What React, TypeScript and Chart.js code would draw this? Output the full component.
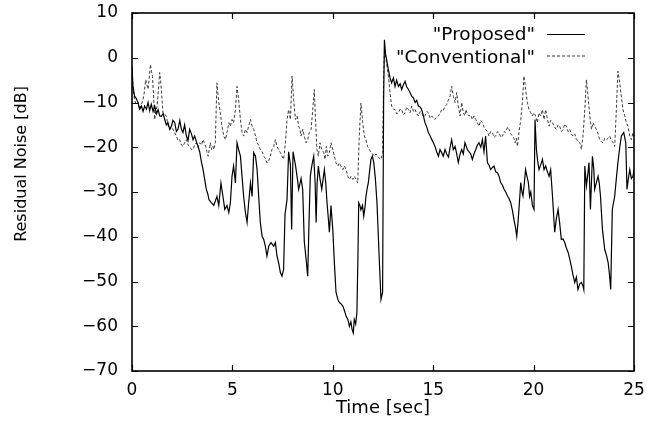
import React, { useEffect, useRef } from "react";
import { Chart, registerables } from "chart.js";

Chart.register(...registerables);

const seriesLabels = ['"Proposed"', '"Conventional"'];
const xTitle = "Time [sec]";
const yTitle = "Residual Noise [dB]";
const xTicks = [0, 5, 10, 15, 20, 25];
const yTicks = [10, 0, -10, -20, -30, -40, -50, -60, -70];

const proposedTime = [
  0.0, 0.05, 0.13, 0.2, 0.3, 0.38, 0.47, 0.55, 0.63, 0.72, 0.8, 0.88, 0.96, 1.05, 1.13, 1.22, 1.3, 1.38, 1.46, 1.55,
  1.63, 1.71, 1.79, 1.88, 1.96, 2.04, 2.13, 2.21, 2.29, 2.38, 2.46, 2.54, 2.62, 2.71, 2.79, 2.87, 2.96, 3.04, 3.12, 3.2,
  3.29, 3.37, 3.46, 3.54, 3.62, 3.7, 3.78, 3.83, 3.95, 4.07, 4.15, 4.23, 4.32, 4.43, 4.53, 4.62, 4.73, 4.82, 4.9, 4.98,
  5.06, 5.15, 5.23, 5.31, 5.4, 5.48, 5.56, 5.65, 5.73, 5.81, 5.9, 5.98, 6.06, 6.15, 6.23, 6.31, 6.39, 6.48, 6.56, 6.64,
  6.72, 6.81, 6.92, 7.06, 7.14, 7.22, 7.3, 7.39, 7.47, 7.55, 7.62, 7.72, 7.8, 7.89, 7.95, 8.02, 8.14, 8.22, 8.3, 8.42,
  8.5, 8.58, 8.67, 8.75, 8.82, 8.88, 8.96, 9.05, 9.12, 9.17, 9.22, 9.28, 9.36, 9.45, 9.52, 9.58, 9.65, 9.71, 9.78, 9.83,
  9.91, 10.0, 10.08, 10.16, 10.25, 10.33, 10.41, 10.5, 10.58, 10.66, 10.75, 10.83, 10.9, 10.96, 11.02, 11.07, 11.14, 11.2, 11.25, 11.29,
  11.35, 11.4, 11.48, 11.54, 11.6, 11.65, 11.72, 11.77, 11.84, 11.9, 11.97, 12.04, 12.12, 12.2, 12.26, 12.32, 12.4, 12.48, 12.53, 12.57,
  12.62, 12.68, 12.77, 12.85, 12.93, 13.02, 13.1, 13.18, 13.27, 13.35, 13.43, 13.52, 13.6, 13.68, 13.77, 13.85, 13.93, 14.02, 14.1, 14.18,
  14.26, 14.35, 14.43, 14.51, 14.59, 14.68, 14.76, 14.85, 14.93, 15.01, 15.09, 15.17, 15.26, 15.34, 15.42, 15.5, 15.59, 15.67, 15.76, 15.84,
  15.92, 16.0, 16.09, 16.17, 16.25, 16.34, 16.42, 16.5, 16.58, 16.7, 16.78, 16.87, 16.95, 17.03, 17.12, 17.2, 17.28, 17.37, 17.45, 17.53,
  17.61, 17.7, 17.78, 17.86, 17.95, 18.03, 18.11, 18.2, 18.28, 18.36, 18.45, 18.53, 18.61, 18.7, 18.78, 18.86, 18.94, 19.02, 19.1, 19.16,
  19.22, 19.27, 19.36, 19.42, 19.47, 19.54, 19.6, 19.67, 19.74, 19.8, 19.86, 19.94, 20.02, 20.07, 20.14, 20.2, 20.27, 20.35, 20.44, 20.52,
  20.6, 20.69, 20.77, 20.85, 20.94, 21.05, 21.13, 21.22, 21.3, 21.38, 21.47, 21.55, 21.63, 21.72, 21.8, 21.88, 21.96, 22.05, 22.13, 22.21,
  22.3, 22.38, 22.46, 22.5, 22.55, 22.63, 22.7, 22.76, 22.83, 22.93, 23.0, 23.04, 23.12, 23.21, 23.27, 23.33, 23.43, 23.54, 23.62, 23.71,
  23.78, 23.84, 23.92, 24.04, 24.12, 24.2, 24.29, 24.37, 24.49, 24.59, 24.65, 24.72, 24.79, 24.87, 24.95, 25.0,
];
const proposedDb = [
  -2, -6.4, -8.6, -9, -10, -11.5, -10.8, -12, -10.8, -11.5, -10, -11.8, -10.4, -12, -10.8, -12.5, -11.6, -13, -13.1, -12.5,
  -13.8, -15, -14.5, -16, -15.3, -14, -14.5, -16.5, -16, -14, -16, -16.7, -15, -17.5, -18.5, -16, -17, -18.3, -17.5, -18.7,
  -19.8, -21, -23.4, -25, -27.2, -29.4, -30.5, -31.7, -32.4, -33, -32, -31, -33, -28, -31, -33.9, -33, -34.6, -32.4, -26.5,
  -24.2, -28, -19, -20.5, -22, -26.5, -31, -34.6, -36.8, -32.4, -28, -31, -21.2, -22, -25, -31, -36.8, -39.9, -40.6, -42.1,
  -44.3, -42.1, -41.3, -42.1, -41.3, -44.3, -45.8, -48, -48.8, -47.3, -35, -31.7, -21, -24, -38.4, -21, -24, -26.5, -29.4, -27,
  -29.4, -41, -45, -48.8, -36, -26.5, -24, -22, -28, -36.8, -28, -24.2, -27, -29.4, -27, -25, -28, -32.3, -36, -39,
  -33, -38.4, -46, -52.4, -54, -54.7, -55, -55.5, -56.5, -57.7, -58.5, -60, -59, -60.7, -61.5, -58.5, -59.5, -57, -45, -32.4,
  -33, -34, -33, -35.4, -33.5, -31, -29, -27.9, -25, -22.7, -22, -23.4, -27, -32.4, -39, -45.7, -54, -52.4, -10, 4,
  1, -0.4, -2.7, -4.5, -5.6, -4.5, -6.4, -5, -6.4, -5.8, -7.1, -6, -5.3, -6.5, -7.1, -7.8, -8.6, -9, -10, -9.5,
  -10.8, -11, -11.6, -13, -14.5, -15.5, -16.7, -17.5, -18.3, -19, -19.8, -21, -22, -20.5, -21.2, -22, -20.5, -21.5, -22.2, -20,
  -18.3, -20.5, -19.8, -21.5, -23.4, -21.5, -20.5, -21.5, -19, -20.5, -21, -21.5, -22.7, -21.5, -20.5, -19.5, -19, -20, -18.3, -21,
  -17.5, -23.4, -24, -25, -24.5, -24.2, -25.5, -25.7, -26.5, -27.9, -28.5, -29.4, -30, -30.9, -31.5, -32.4, -34, -36.1, -38, -39.9,
  -37, -33.9, -27.9, -30, -30.9, -28, -25, -26.5, -27.9, -31, -30, -33, -33.9, -13.8, -20.5, -23, -25, -24, -22.7, -25,
  -24.2, -25.5, -26.5, -25, -30.9, -39, -36, -33.9, -37, -40.6, -40.5, -41.3, -42.5, -43.5, -45, -46.6, -48.5, -50.2, -49, -51.8,
  -50.5, -50.2, -51, -51.8, -24.2, -28.6, -26, -23.4, -33.9, -22, -25, -29.4, -28, -26.5, -28, -30.9, -38.4, -42.8, -44, -45.7,
  -48.5, -51.8, -33.9, -30.9, -27, -23.4, -20, -17.5, -16.7, -19, -29.4, -27, -25, -27, -26.5, -25,
];

const conventionalTime = [
  0.0, 0.05, 0.13, 0.22, 0.3, 0.38, 0.46, 0.55, 0.62, 0.68, 0.74, 0.8, 0.86, 0.92, 0.97, 1.02, 1.08, 1.13, 1.19, 1.25,
  1.32, 1.38, 1.42, 1.46, 1.54, 1.62, 1.71, 1.79, 1.88, 1.96, 2.04, 2.13, 2.21, 2.29, 2.38, 2.46, 2.54, 2.62, 2.71, 2.79,
  2.87, 2.96, 3.04, 3.12, 3.2, 3.29, 3.37, 3.46, 3.54, 3.6, 3.67, 3.73, 3.79, 3.85, 3.9, 3.96, 4.03, 4.07, 4.15, 4.19,
  4.23, 4.28, 4.32, 4.4, 4.48, 4.57, 4.65, 4.73, 4.82, 4.9, 4.98, 5.06, 5.15, 5.23, 5.31, 5.4, 5.48, 5.56, 5.65, 5.73,
  5.81, 5.9, 5.98, 6.06, 6.15, 6.23, 6.31, 6.39, 6.48, 6.56, 6.64, 6.72, 6.81, 6.89, 6.97, 7.06, 7.14, 7.22, 7.3, 7.39,
  7.47, 7.55, 7.64, 7.72, 7.8, 7.89, 7.97, 8.05, 8.14, 8.22, 8.3, 8.36, 8.42, 8.5, 8.58, 8.67, 8.75, 8.83, 8.92, 9.0,
  9.08, 9.13, 9.21, 9.28, 9.36, 9.45, 9.55, 9.61, 9.68, 9.75, 9.83, 9.91, 10.0, 10.08, 10.16, 10.25, 10.33, 10.41, 10.5, 10.58,
  10.66, 10.75, 10.83, 10.91, 11.0, 11.07, 11.16, 11.24, 11.32, 11.4, 11.49, 11.57, 11.65, 11.73, 11.82, 11.9, 11.98, 12.07, 12.15, 12.24,
  12.32, 12.4, 12.48, 12.53, 12.58, 12.64, 12.7, 12.77, 12.85, 12.93, 13.02, 13.1, 13.18, 13.27, 13.35, 13.43, 13.52, 13.6, 13.68, 13.77,
  13.85, 13.93, 14.02, 14.1, 14.18, 14.26, 14.35, 14.43, 14.51, 14.59, 14.68, 14.76, 14.85, 14.93, 15.01, 15.09, 15.17, 15.26, 15.34, 15.42,
  15.5, 15.59, 15.67, 15.76, 15.84, 15.92, 16.0, 16.09, 16.17, 16.25, 16.34, 16.42, 16.5, 16.58, 16.62, 16.7, 16.78, 16.87, 16.95, 17.03,
  17.12, 17.2, 17.28, 17.37, 17.45, 17.53, 17.61, 17.7, 17.78, 17.86, 17.95, 18.03, 18.11, 18.2, 18.28, 18.36, 18.45, 18.53, 18.61, 18.7,
  18.78, 18.86, 18.95, 19.02, 19.08, 19.14, 19.2, 19.27, 19.36, 19.44, 19.52, 19.56, 19.6, 19.69, 19.77, 19.86, 19.94, 20.02, 20.1, 20.19,
  20.27, 20.35, 20.44, 20.52, 20.6, 20.69, 20.77, 20.85, 20.94, 21.02, 21.13, 21.22, 21.3, 21.38, 21.47, 21.55, 21.63, 21.72, 21.8, 21.88,
  21.96, 22.05, 22.13, 22.21, 22.3, 22.38, 22.46, 22.55, 22.63, 22.71, 22.8, 22.88, 22.96, 23.04, 23.13, 23.21, 23.29, 23.38, 23.46, 23.54,
  23.63, 23.71, 23.79, 23.88, 23.96, 24.04, 24.12, 24.2, 24.29, 24.37, 24.45, 24.54, 24.62, 24.7, 24.79, 24.87, 24.95, 25.0,
];
const conventionalDb = [
  -3, -7, -9.4, -10.5, -10, -11.6, -10.5, -9.4, -7.5, -4.9, -6, -7, -4.5, -1.5, -3, -4.2, -9, -13.8, -12, -10.8,
  -7, -3.3, -5, -7, -12.3, -12.5, -13.1, -15, -16, -15.5, -16, -16.8, -17.5, -18.5, -18.3, -19.5, -19.8, -19, -18.3, -19.5,
  -19.8, -20.5, -20.5, -19.5, -19, -20, -19, -19.5, -18.3, -19, -19.8, -21, -22, -20.5, -19, -20.5, -19.8, -20.5, -19, -12,
  -5.6, -8, -10, -12.3, -15.3, -17.5, -18.3, -16.7, -14.5, -15.3, -13.8, -14.5, -11.6, -6.4, -9.4, -13.8, -16.7, -17.5, -16, -16.7,
  -15.3, -13.8, -15.3, -16, -17.5, -19, -19.5, -20.5, -21, -22, -22.5, -23.5, -23, -22, -20.5, -19.8, -18.3, -19.8, -20.5, -21.2,
  -22, -22.7, -19, -13.8, -11.6, -13.8, -4.1, -9.4, -13.8, -13, -15.3, -16, -17.5, -16, -17.5, -19, -18.3, -16.7, -16, -11.6,
  -7.1, -13, -20.5, -22, -19, -20.5, -21.2, -22.7, -19.8, -22, -21.2, -19, -20.5, -22, -23.5, -24.2, -23.5, -24.2, -25, -24.2,
  -25, -26.5, -27.2, -26.5, -27.2, -26.5, -27.2, -28, -17.5, -10.1, -14.5, -17.5, -18.3, -19.8, -20.5, -21.2, -21.5, -22, -21.5, -22,
  -22.5, -22.7, -21.2, -5, 2.5, 0, -2, -4.1, -7.8, -10.8, -11.5, -11.6, -12.5, -12.3, -11.5, -11.6, -12.8, -12.3, -11, -11.6,
  -12.3, -10.8, -12, -11.6, -12.5, -13, -12, -12.3, -13.2, -13, -12, -12.3, -13.5, -13, -13.5, -13.8, -13.2, -13, -12.5, -11.6,
  -11.8, -10.8, -10.5, -9.4, -8.5, -6.4, -8.6, -10, -7.8, -10.8, -13, -10, -12.3, -13, -11.6, -12.5, -13, -12.8, -13.8, -13,
  -13.8, -14.5, -15.3, -14, -14.5, -15.5, -16, -16.5, -17.5, -16.5, -16.7, -17.8, -17.5, -16.5, -16.7, -17.8, -17.5, -16.5, -16.7, -15.5,
  -16, -17, -17.5, -18, -19, -18, -19.8, -16.7, -13.8, -10, -4.1, -5.5, -7, -10, -11.6, -12.3, -13, -12.3, -13, -14.5,
  -12.3, -13, -11.6, -13.8, -11.6, -13.8, -15.3, -14, -14.5, -15.3, -16, -15, -15.3, -16.5, -16, -14.8, -15.3, -16.5, -16, -17,
  -17.5, -17, -18.3, -18.5, -19, -20.5, -17.5, -11.6, -4.9, -8.6, -13, -16, -14.5, -15.3, -16, -17, -18.3, -18.8, -19, -18,
  -18.3, -18, -17.5, -18.5, -19, -19.8, -11.6, -3, -5.6, -8.6, -11.6, -13, -14.5, -15.3, -17.5, -18.3, -16.7, -18,
];

const FONT = "'DejaVu Sans', Arial, sans-serif";

function fmtTick(v: number): string {
  return v < 0 ? "\u2212" + Math.abs(v) : String(v);
}

const decorPlugin = {
  id: "decor",
  afterDraw(chart: any) {
    const { ctx, chartArea: a, scales } = chart;
    ctx.save();
    ctx.strokeStyle = "#000";
    ctx.lineWidth = 1.6;
    ctx.strokeRect(a.left, a.top, a.right - a.left, a.bottom - a.top);
    const L = 6;
    ctx.lineWidth = 1.2;
    ctx.beginPath();
    for (const t of xTicks) {
      const x = Math.round(scales.x.getPixelForValue(t)) + 0.5;
      ctx.moveTo(x, a.bottom);
      ctx.lineTo(x, a.bottom - L);
      ctx.moveTo(x, a.top);
      ctx.lineTo(x, a.top + L);
    }
    for (const t of yTicks) {
      const y = Math.round(scales.y.getPixelForValue(t)) + 0.5;
      ctx.moveTo(a.left, y);
      ctx.lineTo(a.left + L, y);
      ctx.moveTo(a.right, y);
      ctx.lineTo(a.right - L, y);
    }
    ctx.stroke();

    ctx.fillStyle = "#000";
    ctx.font = `18.5px ${FONT}`;
    ctx.textAlign = "right";
    ctx.textBaseline = "alphabetic";
    const textRight = a.right - 99;
    const lineX0 = a.right - 87;
    const lineX1 = a.right - 49;
    const rows = [
      { base: a.top + 26.5, line: a.top + 21 },
      { base: a.top + 49.5, line: a.top + 42.5 },
    ];
    chart.data.datasets.forEach((ds: any, i: number) => {
      const r = rows[i];
      ctx.fillText(ds.label, textRight, r.base);
      ctx.save();
      ctx.strokeStyle = ds.borderColor;
      ctx.lineWidth = 1;
      ctx.setLineDash(ds.borderDash || []);
      ctx.beginPath();
      ctx.moveTo(lineX0, r.line + 0.5);
      ctx.lineTo(lineX1, r.line + 0.5);
      ctx.stroke();
      ctx.restore();
    });

    ctx.textAlign = "center";
    ctx.textBaseline = "middle";
    ctx.font = `18px ${FONT}`;
    ctx.fillText(xTitle, (a.left + a.right) / 2, 408);
    ctx.save();
    ctx.translate(22, 164);
    ctx.rotate(-Math.PI / 2);
    ctx.font = `16px ${FONT}`;
    ctx.fillText(yTitle, 0, 0);
    ctx.restore();

    ctx.restore();
  },
};

function zeroPadding(s: any) {
  s.paddingTop = 0;
  s.paddingBottom = 0;
  s.paddingLeft = 0;
  s.paddingRight = 0;
}

export default function App() {
  const ref = useRef<HTMLCanvasElement | null>(null);

  useEffect(() => {
    if (!ref.current) return;
    const proposed = proposedTime.map((t, i) => ({ x: t, y: proposedDb[i] }));
    const conventional = conventionalTime.map((t, i) => ({ x: t, y: conventionalDb[i] }));
    const chart = new Chart(ref.current, {
      type: "line",
      data: {
        datasets: [
          {
            label: seriesLabels[0],
            data: proposed,
            borderColor: "#000000",
            borderWidth: 1.2,
            pointRadius: 0,
            tension: 0,
            fill: false,
          },
          {
            label: seriesLabels[1],
            data: conventional,
            borderColor: "#3a3a3a",
            borderWidth: 1,
            borderDash: [3, 2],
            pointRadius: 0,
            tension: 0,
            fill: false,
          },
        ],
      },
      options: {
        animation: false,
        responsive: false,
        events: [],
        layout: { padding: { top: 13, right: 13, left: 0, bottom: 0 } },
        plugins: { legend: { display: false }, tooltip: { enabled: false }, title: { display: false } },
        scales: {
          x: {
            type: "linear",
            min: 0,
            max: 25,
            grid: { display: false, drawTicks: false },
            border: { display: false },
            afterBuildTicks: (s: any) => {
              s.ticks = xTicks.map((v) => ({ value: v }));
            },
            afterFit: (s: any) => {
              s.height = 54;
              zeroPadding(s);
            },
            ticks: {
              padding: 9,
              color: "#000",
              font: { family: FONT, size: 17 },
              maxRotation: 0,
              autoSkip: false,
              callback: (v: any) => fmtTick(Number(v)),
            },
          },
          y: {
            type: "linear",
            min: -70,
            max: 10,
            grid: { display: false, drawTicks: false },
            border: { display: false },
            afterBuildTicks: (s: any) => {
              s.ticks = yTicks.map((v) => ({ value: v }));
            },
            afterFit: (s: any) => {
              s.width = 132;
              zeroPadding(s);
            },
            ticks: {
              padding: 14,
              color: "#000",
              font: { family: FONT, size: 17 },
              autoSkip: false,
              callback: (v: any) => fmtTick(Number(v)),
            },
          },
        },
      },
      plugins: [decorPlugin],
    });
    return () => chart.destroy();
  }, []);

  return (
    <div style={{ position: "absolute", left: 0, top: 0, width: 647, height: 425, background: "#fff" }}>
      <canvas ref={ref} width={647} height={425} style={{ display: "block" }} />
    </div>
  );
}
